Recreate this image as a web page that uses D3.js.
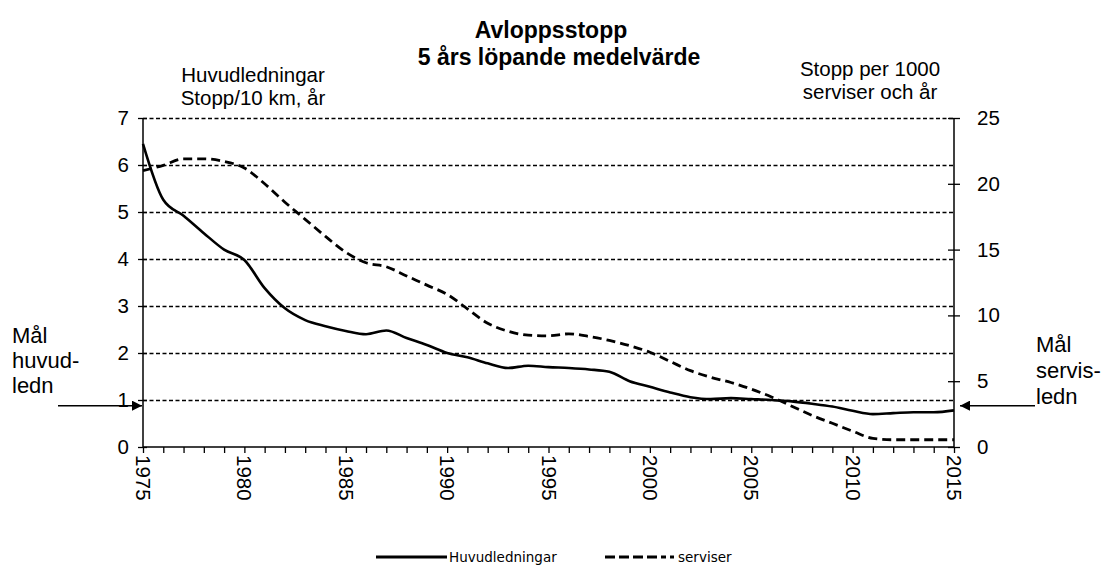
<!DOCTYPE html>
<html>
<head>
<meta charset="utf-8">
<script src="https://cdn.jsdelivr.net/npm/d3@7"></script>
<style>
  html, body { margin: 0; padding: 0; background: #fff; }
  svg text { font-family: "Liberation Sans", Arial, sans-serif; fill: #000; }
</style>
</head>
<body>
<svg id="chart" width="1107" height="566"></svg>
<script>
// Years on the x axis
const years = d3.range(1975, 2016);

// Huvudledningar, stopp per 10 km och år (left axis)
const huvudledningar = [
  6.45, 5.26, 4.92, 4.55, 4.2, 3.98, 3.38, 2.95, 2.7, 2.57,
  2.47, 2.4, 2.48, 2.32, 2.17, 2.0, 1.91, 1.78, 1.68, 1.73,
  1.7, 1.68, 1.65, 1.6, 1.4, 1.28, 1.16, 1.06, 1.02, 1.04,
  1.02, 1.0, 0.97, 0.92, 0.86, 0.77, 0.7, 0.72, 0.74, 0.74,
  0.78
];

// Serviser, stopp per 1000 serviser och år (right axis)
const serviser = [
  21.0, 21.4, 21.9, 21.9, 21.7, 21.2, 20.0, 18.6, 17.3, 16.0,
  14.8, 14.0, 13.7, 13.0, 12.3, 11.6, 10.5, 9.4, 8.8, 8.5,
  8.45, 8.6, 8.4, 8.1, 7.7, 7.2, 6.5, 5.8, 5.3, 4.9,
  4.4, 3.8, 3.1, 2.4, 1.8, 1.2, 0.65, 0.55, 0.55, 0.55,
  0.55
];

const leftTicks = [0, 1, 2, 3, 4, 5, 6, 7];
const rightTicks = [0, 5, 10, 15, 20, 25];
const yearLabels = [1975, 1980, 1985, 1990, 1995, 2000, 2005, 2010, 2015];

const svg = d3.select('#chart');

const plot = { left: 143, right: 954, top: 118, bottom: 447 };

const x = d3.scaleLinear().domain([1975, 2015]).range([plot.left, plot.right]);
const yL = d3.scaleLinear().domain([0, 7]).range([plot.bottom, plot.top]);
const yR = d3.scaleLinear().domain([0, 25]).range([plot.bottom, plot.top]);

// Title
svg.append('text')
  .attr('x', 551).attr('y', 38)
  .attr('text-anchor', 'middle')
  .style('font-size', '23px').style('font-weight', 'bold')
  .text('Avloppsstopp');
svg.append('text')
  .attr('x', 559).attr('y', 65)
  .attr('text-anchor', 'middle')
  .style('font-size', '23px').style('font-weight', 'bold')
  .text('5 års löpande medelvärde');

// Axis titles
svg.append('text').attr('x', 253).attr('y', 82).attr('text-anchor', 'middle')
  .style('font-size', '20.5px').text('Huvudledningar');
svg.append('text').attr('x', 253).attr('y', 105).attr('text-anchor', 'middle')
  .style('font-size', '20.5px').text('Stopp/10 km, år');
svg.append('text').attr('x', 870).attr('y', 76).attr('text-anchor', 'middle')
  .style('font-size', '20.5px').text('Stopp per 1000');
svg.append('text').attr('x', 870).attr('y', 99).attr('text-anchor', 'middle')
  .style('font-size', '20.5px').text('serviser och år');

// Grid lines (dashed)
const grid = svg.append('g');
grid.selectAll('line')
  .data(leftTicks.filter(d => d > 0))
  .enter().append('line')
  .attr('x1', plot.left).attr('x2', plot.right)
  .attr('y1', d => yL(d) + 0.5).attr('y2', d => yL(d) + 0.5)
  .attr('stroke', '#000')
  .attr('stroke-width', 1.4)
  .attr('stroke-dasharray', '4,2.5');

// Left axis
const leftAxis = d3.axisLeft(yL).tickValues(leftTicks).tickSize(6).tickPadding(8).tickFormat(d3.format('d'));
const gL = svg.append('g').attr('transform', `translate(${plot.left},0)`).call(leftAxis);

// Right axis
const rightAxis = d3.axisRight(yR).tickValues(rightTicks).tickSize(6).tickPadding(17).tickFormat(d3.format('d'));
const gR = svg.append('g').attr('transform', `translate(${plot.right},0)`).call(rightAxis);

// Bottom axis: minor tick every year, labels every 5 years
const bottomAxis = d3.axisBottom(x).tickValues(years).tickSize(6).tickFormat(d => yearLabels.includes(d) ? d : '');
const gB = svg.append('g').attr('transform', `translate(0,${plot.bottom})`).call(bottomAxis);
gB.selectAll('text')
  .attr('transform', 'rotate(90)')
  .attr('x', 8).attr('y', 0)
  .attr('dy', '0.36em')
  .style('text-anchor', 'start');

[gL, gR, gB].forEach(g => {
  g.select('.domain').attr('stroke', '#000').attr('stroke-width', 1.5);
  g.selectAll('.tick line').attr('stroke', '#000').attr('stroke-width', 1.3);
  g.selectAll('text').style('font-size', '20.5px').style('font-family', '"Liberation Sans", Arial, sans-serif').attr('fill', '#000');
});
// ticks on the y axes cross the axis line
gL.selectAll('.tick line').attr('x2', -5).attr('x1', 4);
gR.selectAll('.tick line').attr('x1', -6).attr('x2', 6);
gL.select('.domain').attr('d', `M0,${plot.top}V${plot.bottom}`);
gR.select('.domain').attr('d', `M0,${plot.top}V${plot.bottom}`);
gB.select('.domain').attr('d', `M${plot.left},0H${plot.right}`);

// Lines
const lineL = d3.line().x((d, i) => x(years[i])).y(d => yL(d)).curve(d3.curveMonotoneX);
const lineR = d3.line().x((d, i) => x(years[i])).y(d => yR(d)).curve(d3.curveMonotoneX);

svg.append('path')
  .attr('d', lineR(serviser))
  .attr('fill', 'none').attr('stroke', '#000').attr('stroke-width', 2.8)
  .attr('stroke-dasharray', '9,5');

svg.append('path')
  .attr('d', lineL(huvudledningar))
  .attr('fill', 'none').attr('stroke', '#000').attr('stroke-width', 2.6);

// Target markers (Mål)
const defs = svg.append('defs');
defs.append('marker')
  .attr('id', 'arrow')
  .attr('viewBox', '0 0 10 10')
  .attr('refX', 10).attr('refY', 5)
  .attr('markerWidth', 10).attr('markerHeight', 10)
  .attr('markerUnits', 'userSpaceOnUse')
  .attr('orient', 'auto')
  .append('path').attr('d', 'M0,0L10,5L0,10Z').attr('fill', '#000');

const arrowY = yL(0.88);
svg.append('line')
  .attr('x1', 58).attr('x2', plot.left - 1)
  .attr('y1', arrowY).attr('y2', arrowY)
  .attr('stroke', '#000').attr('stroke-width', 1.5)
  .attr('marker-end', 'url(#arrow)');
svg.append('line')
  .attr('x1', 1035).attr('x2', plot.right + 6)
  .attr('y1', arrowY).attr('y2', arrowY)
  .attr('stroke', '#000').attr('stroke-width', 1.5)
  .attr('marker-end', 'url(#arrow)');

const malLeft = ['Mål', 'huvud-', 'ledn'];
svg.append('g').selectAll('text')
  .data(malLeft).enter().append('text')
  .attr('x', 12).attr('y', (d, i) => 343 + i * 25)
  .style('font-size', '22px')
  .text(d => d);

const malRight = ['Mål', 'servis-', 'ledn'];
svg.append('g').selectAll('text')
  .data(malRight).enter().append('text')
  .attr('x', 1036).attr('y', (d, i) => 352 + i * 26)
  .style('font-size', '22px')
  .text(d => d);

// Legend
const legend = svg.append('g').attr('transform', 'translate(0,557)');
legend.append('line').attr('x1', 376).attr('x2', 447).attr('y1', 0).attr('y2', 0)
  .attr('stroke', '#000').attr('stroke-width', 3);
legend.append('text').attr('x', 449).attr('y', 5)
  .style('font-family', '"DejaVu Sans", Verdana, sans-serif').style('font-size', '13.5px')
  .text('Huvudledningar');
legend.append('line').attr('x1', 605).attr('x2', 666).attr('y1', 0).attr('y2', 0)
  .attr('stroke', '#000').attr('stroke-width', 3).attr('stroke-dasharray', '10,4');
legend.append('line').attr('x1', 670).attr('x2', 674).attr('y1', 0).attr('y2', 0)
  .attr('stroke', '#000').attr('stroke-width', 3);
legend.append('text').attr('x', 678).attr('y', 5)
  .style('font-family', '"DejaVu Sans", Verdana, sans-serif').style('font-size', '13.5px')
  .text('serviser');
</script>
</body>
</html>
